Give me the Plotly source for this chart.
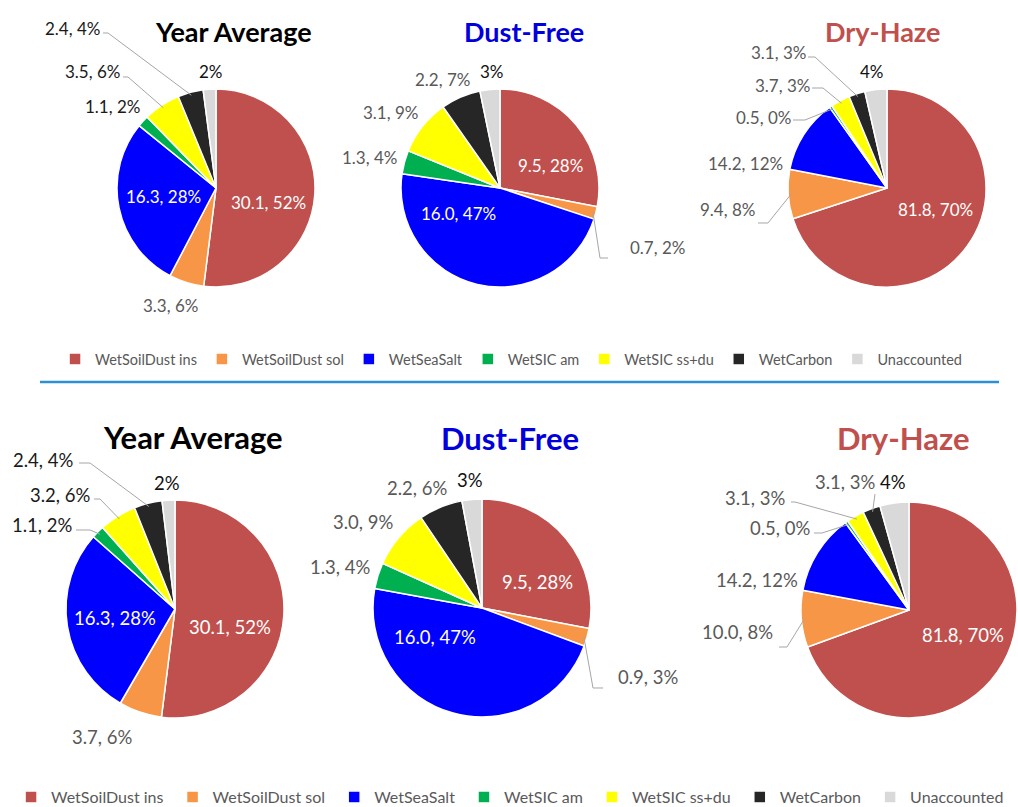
import math
import plotly.graph_objects as go

W, H = 1018, 807

components = ["WetSoilDust ins", "WetSoilDust sol", "WetSeaSalt", "WetSIC am",
              "WetSIC ss+du", "WetCarbon", "Unaccounted"]
colors = ["#C0504D", "#F79646", "#0000FF", "#00B050", "#FFFF00", "#262626", "#D9D9D9"]

titles = ["Year Average", "Dust-Free", "Dry-Haze"]
title_colors = ["#000000", "#0000DD", "#C0504D"]

# values (unaccounted estimated from the shown percentages)
top_year_avg = [30.1, 3.3, 16.3, 1.1, 3.5, 2.4, 1.2]
top_dust_free = [9.5, 0.7, 16.0, 1.3, 3.1, 2.2, 1.1]
top_dry_haze = [81.8, 9.4, 14.2, 0.5, 3.7, 3.1, 4.2]
bot_year_avg = [30.1, 3.7, 16.3, 1.1, 3.2, 2.4, 1.1]
bot_dust_free = [9.5, 0.9, 16.0, 1.3, 3.0, 2.2, 1.0]
bot_dry_haze = [81.8, 10.0, 14.2, 0.5, 3.1, 3.1, 5.1]

# percentages as printed on the labels
top_year_avg_pct = [52, 6, 28, 2, 6, 4, 2]
top_dust_free_pct = [28, 2, 47, 4, 9, 7, 3]
top_dry_haze_pct = [70, 8, 12, 0, 3, 3, 4]
bot_year_avg_pct = [52, 6, 28, 2, 6, 4, 2]
bot_dust_free_pct = [28, 3, 47, 4, 9, 6, 3]
bot_dry_haze_pct = [70, 8, 12, 0, 3, 3, 4]


def px(x):
    return x / W


def py(y):
    return 1 - y / H


# layout of each pie (pixels): centre, radius, title, label spots, leader lines
pies = [
    dict(vals=top_year_avg, pct=top_year_avg_pct, kind=0, c=(216, 188), r=99,
         title=(233, 32), tsize=27, fsize=17, legend="legend", inside={0, 2},
         labels=[(268, 202), (170, 305), (163, 197), (112, 106), (92, 72), (72, 29), (211, 71)],
         leaders={4: [(123, 77), (128, 77)], 5: [(103, 33), (108, 33)]}),
    dict(vals=top_dust_free, pct=top_dust_free_pct, kind=1, c=(500, 188), r=99,
         title=(524, 32), tsize=27, fsize=17, legend="legend", inside={0, 2},
         labels=[(550, 165), (657, 248), (458, 213), (369, 157), (390, 113), (442, 80), (492, 72)],
         leaders={1: [(608, 258), (600, 258)]}),
    dict(vals=top_dry_haze, pct=top_dry_haze_pct, kind=2, c=(887, 188), r=99,
         title=(882, 31), tsize=27, fsize=17, legend="legend", inside={0},
         labels=[(935, 210), (727, 210), (745, 163), (763, 117), (782, 85), (778, 53), (872, 72)],
         leaders={1: [(758, 223), (768, 223)], 3: [(793, 120), (805, 120)],
                  4: [(812, 88), (823, 88)], 5: [(808, 57), (815, 57)]}),
    dict(vals=bot_year_avg, pct=bot_year_avg_pct, kind=0, c=(175, 609), r=109,
         title=(193, 437), tsize=31, fsize=18.5, legend="legend2", inside={0, 2},
         labels=[(230, 627), (102, 737), (115, 618), (42, 525), (60, 495), (43, 460), (167, 483)],
         leaders={3: [(76, 530), (90, 530)], 4: [(94, 499), (100, 499)],
                  5: [(79, 463), (90, 463)]}),
    dict(vals=bot_dust_free, pct=bot_dust_free_pct, kind=1, c=(482, 608), r=109,
         title=(510, 438), tsize=31, fsize=18.5, legend="legend2", inside={0, 2},
         labels=[(537, 582), (648, 677), (435, 637), (340, 567), (363, 522), (417, 488), (470, 480)],
         leaders={1: [(603, 688), (593, 688)]}),
    dict(vals=bot_dry_haze, pct=bot_dry_haze_pct, kind=2, c=(909, 610), r=108,
         title=(903, 438), tsize=31, fsize=18.5, legend="legend2", inside={0},
         labels=[(963, 635), (737, 632), (757, 580), (780, 528), (755, 498), (845, 482), (893, 482)],
         leaders={1: [(779, 647), (787, 647)], 3: [(814, 533), (822, 533)],
                  4: [(791, 502), (795, 502)], 5: [(875, 494), (875, 494)]}),
]

fig = go.Figure()
annotations = []
shapes = []

for n, p in enumerate(pies):
    cx, cy = p["c"]
    r = p["r"]
    # pie legend entries are merged by label, so the lower panel gets a
    # trailing space to keep its own copy in the second legend
    names = components if p["legend"] == "legend" else [c + " " for c in components]
    fig.add_trace(go.Pie(
        labels=names,
        values=p["vals"],
        marker=dict(colors=colors, line=dict(color="white", width=1.5)),
        sort=False,
        direction="clockwise",
        rotation=0,
        textinfo="none",
        hoverinfo="label+value+percent",
        domain=dict(x=[px(cx - r), px(cx + r)], y=[py(cy + r), py(cy - r)]),
        legend=p["legend"],
        showlegend=True,
    ))

    tx, ty = p["title"]
    annotations.append(dict(
        x=px(tx), y=py(ty), xref="paper", yref="paper", showarrow=False,
        text="<b>%s</b>" % titles[p["kind"]],
        font=dict(family="Lato", size=p["tsize"], color=title_colors[p["kind"]]),
        xanchor="center", yanchor="middle",
    ))

    total = sum(p["vals"])
    for i, v in enumerate(p["vals"]):
        if i == len(components) - 1:
            txt = "%d%%" % p["pct"][i]
        else:
            txt = "%.1f, %d%%" % (v, p["pct"][i])
        if i in p["inside"]:
            col = "white"
        elif i == len(components) - 1:
            col = "#111111"
        elif p["kind"] == 0 and i != 1:
            col = "#1A1A1A"
        else:
            col = "#595959"
        lx, ly = p["labels"][i]
        annotations.append(dict(
            x=px(lx), y=py(ly), xref="paper", yref="paper", showarrow=False,
            text=txt, font=dict(family="Lato", size=p["fsize"], color=col),
            xanchor="center", yanchor="middle",
        ))

        if i in p["leaders"]:
            # point on the slice edge, from the cumulative share of the data
            theta = 2 * math.pi * (sum(p["vals"][:i]) + v / 2) / total
            ex = cx + 0.97 * r * math.sin(theta)
            ey = cy - 0.97 * r * math.cos(theta)
            (sx, sy), (kx, ky) = p["leaders"][i]
            shapes.append(dict(
                type="path", xref="paper", yref="paper",
                path="M %f,%f L %f,%f L %f,%f" % (px(sx), py(sy), px(kx), py(ky), px(ex), py(ey)),
                line=dict(color="#A6A6A6", width=1),
            ))

# blue separator between the two panels
shapes.append(dict(type="line", xref="paper", yref="paper",
                   x0=px(40), x1=px(999), y0=py(382), y1=py(382),
                   line=dict(color="#2E8FD6", width=2.5)))

fig.update_layout(
    width=W, height=H,
    margin=dict(l=0, r=0, t=0, b=0, autoexpand=False),
    paper_bgcolor="white",
    plot_bgcolor="white",
    annotations=annotations,
    shapes=shapes,
    legend=dict(orientation="h", x=0.502, xanchor="center", y=py(359), yanchor="middle",
                font=dict(family="Lato", size=14.5, color="#595959"),
                itemwidth=30, tracegroupgap=0),
    legend2=dict(orientation="h", x=0.503, xanchor="center", y=py(797), yanchor="middle",
                 font=dict(family="Lato", size=16, color="#595959"),
                 itemwidth=30, tracegroupgap=0),
)

# the page body has a default 8px margin; drop it so the figure sits at (0, 0)
fig.write_html("out.html", config={"displayModeBar": False},
               post_script="document.body.style.margin='0';")
